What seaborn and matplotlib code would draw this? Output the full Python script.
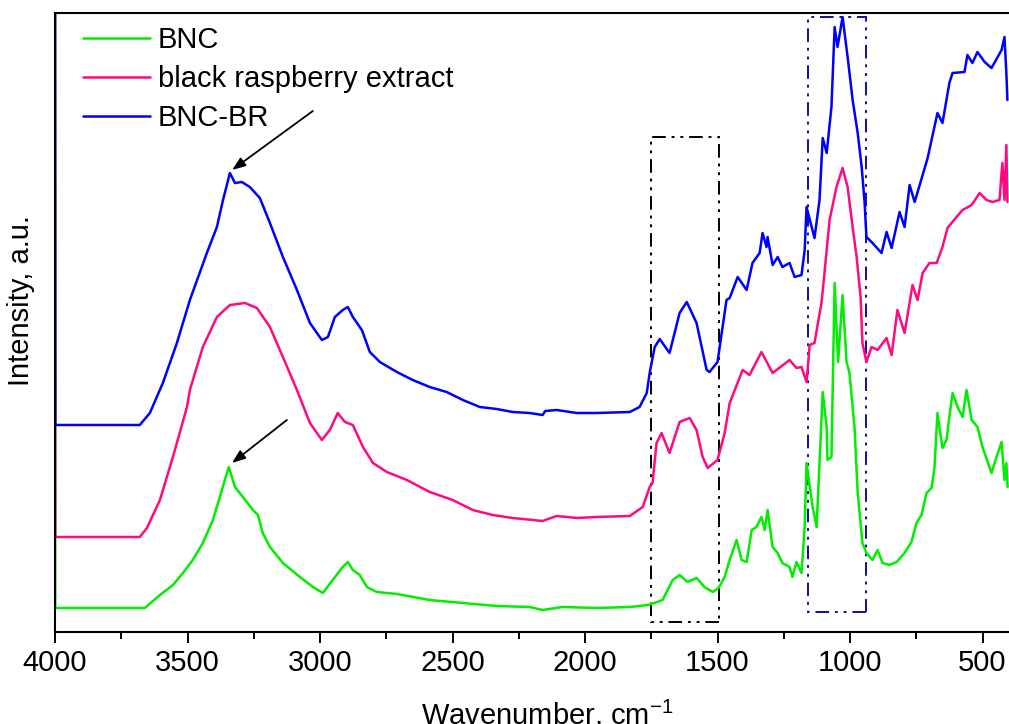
"""
FTIR spectra of BNC, black raspberry extract and BNC-BR.
"""
import matplotlib
matplotlib.use("Agg")
import matplotlib.pyplot as plt
import seaborn as sns
import pandas as pd
from matplotlib.patches import Rectangle
from matplotlib.ticker import MultipleLocator

# BNC (green) - wavenumber, cm-1 / intensity, a.u.
bnc_wn = [4000, 3999, 3680, 3661, 3604, 3555, 3517, 3480, 3442, 3404, 3378, 3359, 3344,
          3321, 3291, 3253, 3234, 3216, 3189, 3140, 3076, 3027, 2989, 2952, 2914, 2895,
          2876, 2850, 2823, 2786, 2710, 2586, 2461, 2333, 2209, 2160, 2084, 1956, 1831,
          1760, 1707, 1669, 1643, 1613, 1579, 1549, 1518, 1496, 1473, 1454, 1428, 1409,
          1390, 1371, 1353, 1334, 1322, 1311, 1292, 1273, 1255, 1228, 1217, 1202, 1183,
          1171, 1164, 1141, 1126, 1115, 1103, 1088, 1085, 1070, 1058, 1045, 1028, 1013,
          1002, 983, 971, 953, 938, 915, 896, 877, 851, 824, 794, 768, 749, 730, 711,
          692, 681, 670, 651, 636, 625, 613, 594, 575, 560, 541, 519, 500, 466, 447,
          428, 417, 410, 405]
bnc_int = [6.30, 0.24, 0.24, 0.24, 0.37, 0.47, 0.59, 0.72, 0.89, 1.12, 1.35, 1.52, 1.65,
           1.45, 1.35, 1.22, 1.17, 0.99, 0.85, 0.69, 0.55, 0.45, 0.39, 0.52, 0.65, 0.70,
           0.62, 0.57, 0.45, 0.40, 0.38, 0.32, 0.29, 0.26, 0.25, 0.22, 0.25, 0.24, 0.25,
           0.27, 0.32, 0.52, 0.57, 0.50, 0.54, 0.45, 0.40, 0.44, 0.55, 0.72, 0.92, 0.72,
           0.70, 1.02, 1.05, 1.15, 1.02, 1.22, 0.85, 0.79, 0.69, 0.65, 0.55, 0.70, 0.59,
           1.05, 1.69, 1.25, 1.05, 1.69, 2.40, 2.05, 1.72, 1.75, 3.49, 2.70, 3.37, 2.70,
           2.59, 2.05, 1.39, 0.89, 0.79, 0.72, 0.82, 0.69, 0.67, 0.70, 0.79, 0.90, 1.09,
           1.17, 1.39, 1.44, 1.65, 2.19, 1.84, 1.92, 2.15, 2.39, 2.25, 2.15, 2.42, 2.12,
           2.05, 1.85, 1.59, 1.75, 1.90, 1.52, 1.69, 1.45]

# black raspberry extract (pink)
br_wn = [4000, 3999, 3680, 3653, 3604, 3555, 3502, 3491, 3442, 3389, 3340, 3283, 3238,
         3189, 3140, 3087, 3038, 2993, 2963, 2933, 2906, 2876, 2838, 2800, 2748, 2672,
         2586, 2499, 2424, 2348, 2273, 2160, 2107, 2031, 1956, 1831, 1782, 1756, 1745,
         1730, 1711, 1681, 1643, 1605, 1579, 1556, 1537, 1500, 1473, 1454, 1405, 1379,
         1334, 1292, 1228, 1202, 1183, 1164, 1152, 1134, 1107, 1077, 1051, 1028, 1009,
         990, 975, 960, 953, 938, 919, 896, 862, 843, 821, 794, 764, 745, 726, 700,
         673, 651, 632, 598, 575, 541, 511, 485, 462, 436, 425, 417, 410, 406]
br_int = [6.30, 0.95, 0.95, 1.04, 1.32, 1.75, 2.25, 2.42, 2.85, 3.15, 3.27, 3.29, 3.24,
          3.05, 2.75, 2.42, 2.09, 1.92, 2.02, 2.19, 2.10, 2.07, 1.85, 1.69, 1.60, 1.52,
          1.40, 1.32, 1.22, 1.17, 1.14, 1.11, 1.16, 1.14, 1.15, 1.16, 1.25, 1.45, 1.49,
          1.89, 1.99, 1.79, 2.10, 2.14, 2.02, 1.75, 1.64, 1.72, 1.99, 2.29, 2.62, 2.57,
          2.80, 2.59, 2.72, 2.64, 2.65, 2.50, 2.87, 2.89, 3.30, 4.12, 4.45, 4.64, 4.45,
          4.05, 3.75, 3.35, 2.89, 2.70, 2.85, 2.82, 2.94, 2.77, 3.22, 2.99, 3.47, 3.32,
          3.59, 3.69, 3.69, 3.85, 4.04, 4.15, 4.22, 4.27, 4.39, 4.32, 4.30, 4.32, 4.69,
          4.32, 4.87, 4.30]

# BNC-BR (blue)
bnc_br_wn = [4000, 3999, 3680, 3642, 3593, 3540, 3491, 3427, 3389, 3366, 3340, 3321, 3295,
             3265, 3227, 3189, 3140, 3087, 3038, 2993, 2970, 2944, 2914, 2895, 2876, 2842,
             2812, 2774, 2710, 2650, 2586, 2522, 2461, 2397, 2333, 2273, 2209, 2160, 2150,
             2107, 2031, 1956, 1831, 1794, 1767, 1756, 1737, 1718, 1681, 1643, 1616, 1579,
             1541, 1530, 1500, 1466, 1454, 1424, 1390, 1368, 1341, 1330, 1315, 1311, 1292,
             1273, 1255, 1228, 1209, 1183, 1171, 1164, 1134, 1115, 1103, 1088, 1070, 1058,
             1047, 1028, 1009, 990, 971, 956, 945, 938, 915, 881, 862, 843, 813, 794, 775,
             756, 707, 670, 651, 625, 613, 568, 557, 538, 519, 492, 466, 428, 417, 410, 406]
bnc_br_int = [6.30, 2.07, 2.07, 2.19, 2.49, 2.89, 3.32, 3.79, 4.05, 4.32, 4.59, 4.49, 4.50,
              4.45, 4.34, 4.09, 3.75, 3.42, 3.09, 2.92, 2.95, 3.15, 3.22, 3.25, 3.15, 3.02,
              2.80, 2.70, 2.60, 2.52, 2.45, 2.40, 2.32, 2.25, 2.23, 2.20, 2.19, 2.17, 2.21,
              2.22, 2.19, 2.19, 2.20, 2.25, 2.39, 2.59, 2.85, 2.93, 2.79, 3.19, 3.30, 3.09,
              2.62, 2.60, 2.70, 3.32, 3.34, 3.55, 3.42, 3.69, 3.79, 3.99, 3.85, 3.95, 3.67,
              3.75, 3.65, 3.69, 3.55, 3.57, 3.82, 4.25, 3.94, 4.32, 4.94, 4.79, 5.25, 6.05,
              5.85, 6.15, 5.75, 5.32, 4.99, 4.65, 4.30, 3.95, 3.89, 3.79, 4.00, 3.84, 4.20,
              4.05, 4.47, 4.30, 4.74, 5.19, 5.09, 5.49, 5.59, 5.60, 5.77, 5.69, 5.80, 5.70,
              5.64, 5.82, 5.95, 5.59, 5.32]

series_names = ["BNC", "black raspberry extract", "BNC-BR"]
series_colors = ["#00ee00", "#ff0a80", "#0000ff"]

# highlighted regions (wavenumber range, intensity range)
box_wn = [(1752, 1496), (1160, 938)]
box_int = [(0.10, 4.95), (0.20, 6.15)]
box_colors = ["black", "#10109a"]

# arrows: (tail wn, tail int) -> (head wn, head int)
arrow_tail = [(3027, 5.21), (3125, 2.12)]
arrow_head = [(3332, 4.62), (3332, 1.69)]

sns.set_style("ticks")
plt.rcParams['font.family'] = ['Liberation Sans', 'DejaVu Sans']
plt.rcParams['mathtext.default'] = 'regular'
plt.rcParams['text.color'] = 'black'
plt.rcParams['axes.labelcolor'] = 'black'
plt.rcParams['xtick.color'] = 'black'

frames = []
for name, wn, inten in zip(series_names,
                           [bnc_wn, br_wn, bnc_br_wn],
                           [bnc_int, br_int, bnc_br_int]):
    frames.append(pd.DataFrame({"wn": wn, "intensity": inten, "sample": name}))
df = pd.concat(frames, ignore_index=True)

fig = plt.figure(figsize=(10.09, 7.24), dpi=100)
ax = fig.add_axes([55 / 1009, 1 - 632 / 724, 954 / 1009, 619 / 724])

for name, color in zip(series_names, series_colors):
    sub = df[df["sample"] == name]
    sns.lineplot(data=sub, x="wn", y="intensity", ax=ax, color=color, lw=1.8,
                 sort=False, estimator=None, label=name)

for (w1, w2), (i1, i2), c in zip(box_wn, box_int, box_colors):
    ax.add_patch(Rectangle((w2, i1), w1 - w2, i2 - i1, fill=False, edgecolor=c,
                           lw=1.4, linestyle=(0, (7, 3, 1.5, 3, 1.5, 3))))

for tail, head in zip(arrow_tail, arrow_head):
    ax.annotate("", xy=head, xytext=tail,
                arrowprops=dict(arrowstyle="-|>,head_length=0.8,head_width=0.3",
                                color="black", lw=1.3, shrinkA=0, shrinkB=0))

ax.set_xlim(4000, 400)
ax.set_ylim(0, 6.19)
ax.xaxis.set_major_locator(MultipleLocator(500))
ax.xaxis.set_minor_locator(MultipleLocator(250))
ax.set_yticks([])
ax.tick_params(axis='x', which='major', length=8, width=1.4, labelsize=21, pad=4,
               direction='out', color='black', labelcolor='black')
ax.tick_params(axis='x', which='minor', length=5, width=1.4, direction='out')

for side in ['left', 'bottom', 'top']:
    ax.spines[side].set_visible(True)
    ax.spines[side].set_linewidth(1.5)
    ax.spines[side].set_color('black')
ax.spines['right'].set_visible(False)

ax.set_xlabel(r"Wavenumber, cm$^{-1}$", fontsize=21, color='black')
ax.set_ylabel("Intensity, a.u.", fontsize=21, color='black')
ax.xaxis.set_label_coords(0.516, -0.106)
ax.yaxis.set_label_coords(-0.021, 0.535)

leg = ax.legend(loc='upper left', bbox_to_anchor=(0.029, 0.979), frameon=False,
                fontsize=21, handlelength=2.3, handletextpad=0.28, labelspacing=0.38,
                borderpad=0, borderaxespad=0)
for t in leg.get_texts():
    t.set_color('black')

plt.savefig("out.png", dpi=100)
plt.close()
